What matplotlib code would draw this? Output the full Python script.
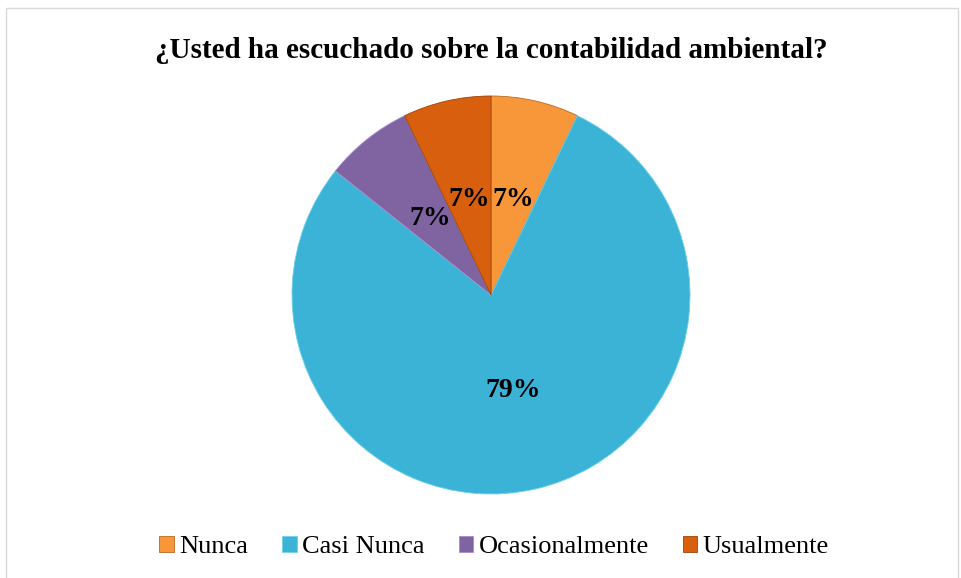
import matplotlib.pyplot as plt
from matplotlib.patches import Rectangle

categorias = ["Nunca", "Casi Nunca", "Ocasionalmente", "Usualmente"]
respuestas = [1, 11, 1, 1]
colores = ["#F7973A", "#3BB3D7", "#8064A2", "#D75F0E"]
titulo = "¿Usted ha escuchado sobre la contabilidad ambiental?"

plt.rcParams["font.family"] = ["Liberation Serif", "DejaVu Serif"]

W, H = 961, 578
fig = plt.figure(figsize=(W / 100, H / 100), dpi=100)

# marco gris del área del gráfico
fig.patches.append(Rectangle((6 / W, -0.01), 952 / W, 1 - 8 / H + 0.01,
                             transform=fig.transFigure, fill=False,
                             edgecolor="#D9D9D9", linewidth=1))

cx, cy, r = 491, 295, 199
ax = fig.add_axes([(cx - r) / W, (H - cy - r) / H, 2 * r / W, 2 * r / H])

wedges, textos, pcts = ax.pie(
    respuestas, colors=colores, startangle=90, counterclock=False,
    autopct=lambda p: f"{p:.0f}%", pctdistance=0.49,
    wedgeprops=dict(edgecolor="#ffffff", linewidth=0.6),
    textprops=dict(fontsize=20, fontweight="bold", color="black"))
for w, c in zip(wedges, ["#B86A20", "#6FD0EA", "#A58BC6", "#9E4409"]):
    w.set_edgecolor(c)
ax.set_xlim(-1, 1)
ax.set_ylim(-1, 1)
ax.set_aspect("equal")

fig.text(cx / W, 1 - 51 / H, titulo, ha="center", va="center",
         fontsize=21, fontweight="bold")

leg = fig.legend(wedges, categorias, loc="center", bbox_to_anchor=(494 / W, 1 - 547 / H),
                 ncol=4, frameon=False, fontsize=19, handlelength=0.55, handleheight=0.55,
                 handletextpad=0.2, columnspacing=1.3)

fig.savefig("out.png", dpi=100)
